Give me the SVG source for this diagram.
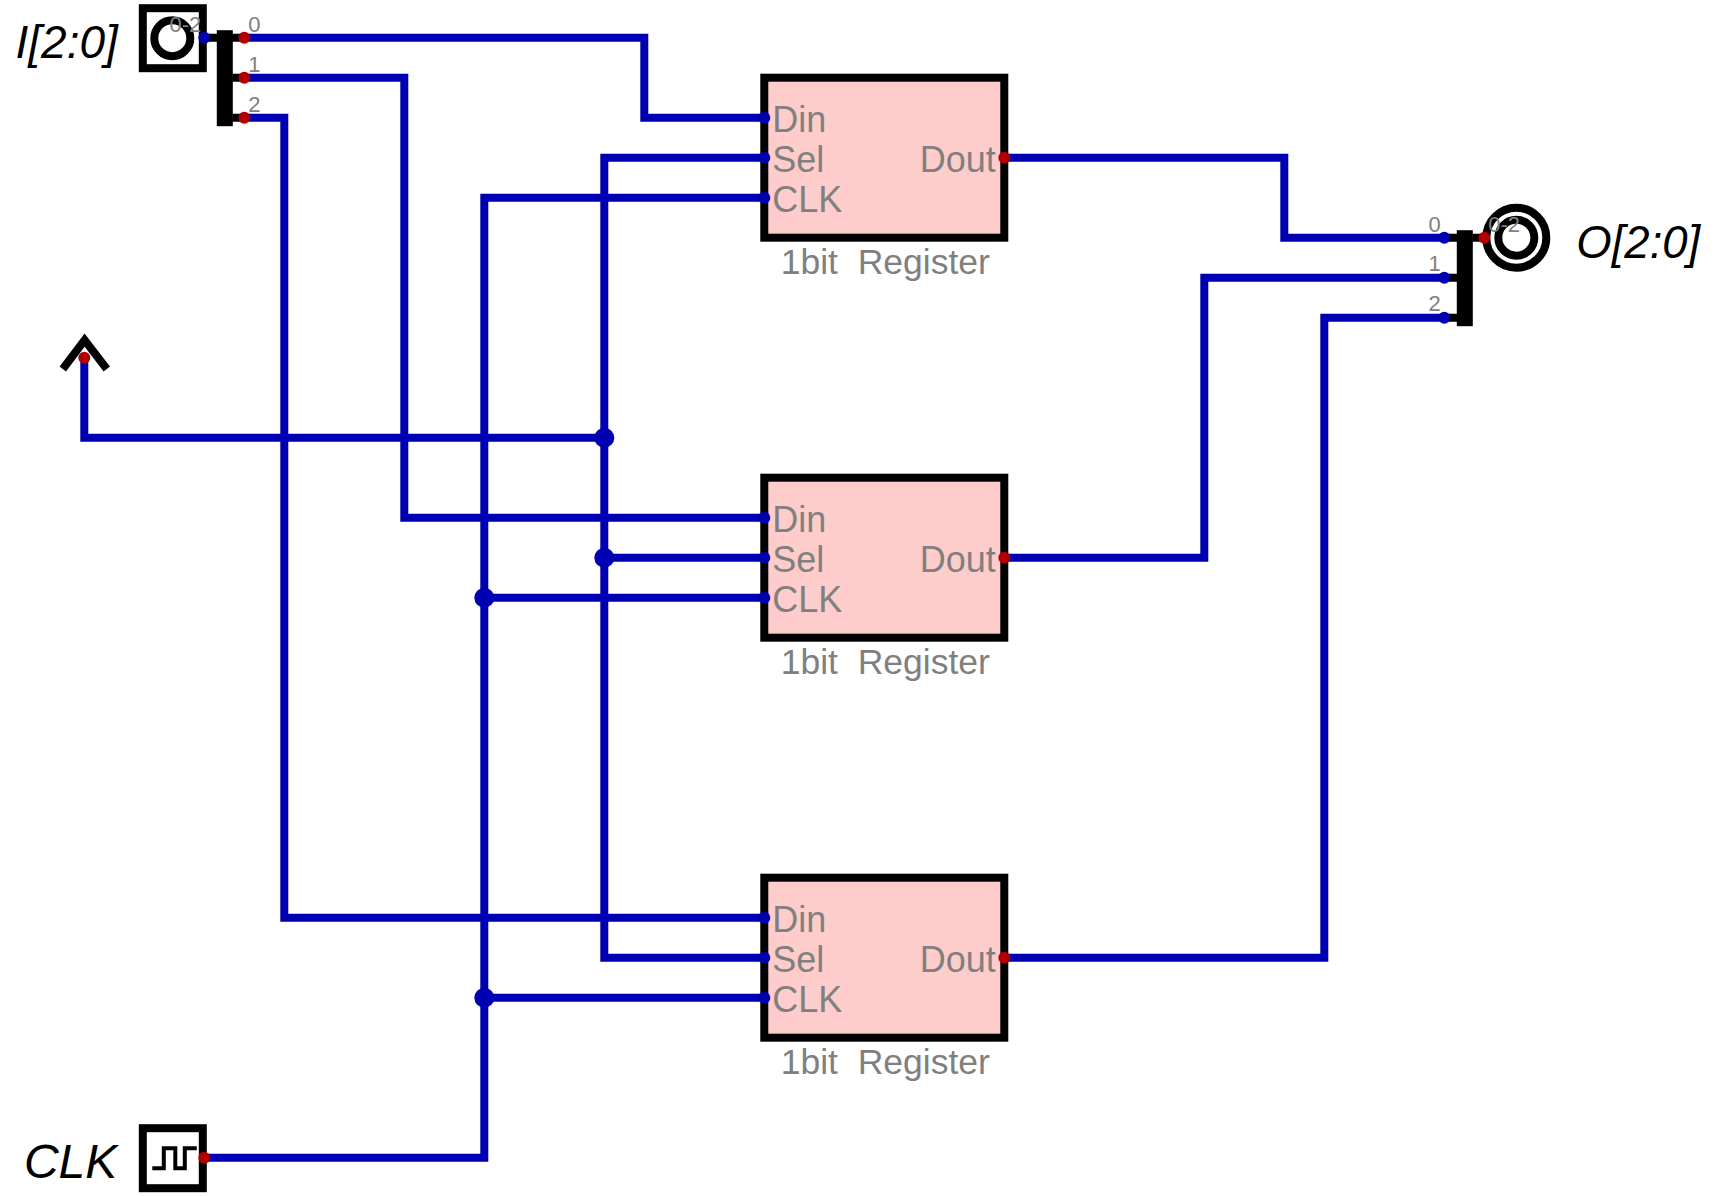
<svg xmlns="http://www.w3.org/2000/svg" width="1714" height="1196" viewBox="0 0 1714 1196">
<style>
text{font-family:"Liberation Sans",Arial,sans-serif;fill:#808080}
.io{font-size:46px;font-style:italic;fill:#000}
.sm{font-size:22px}
.lb{font-size:36px}
.nm{font-size:35.500px;text-anchor:middle;white-space:pre}
.end{text-anchor:end}
.box{fill:#fff;stroke:#000;stroke-width:8}
.reg{fill:#ffcccc;stroke:#000;stroke-width:8}
.blk{fill:none;stroke:#000;stroke-width:8}
.w{fill:none;stroke:#0000b2;stroke-width:8}
.j{fill:#0000b2}
.in{fill:#0000b2}
.out{fill:#b20000}
</style>
<defs>
<g id="register">
<rect class="reg" x="0" y="0" width="240" height="160"/>
<text class="lb" x="8" y="54.500">Din</text>
<text class="lb" x="8" y="94.500">Sel</text>
<text class="lb" x="8" y="134.500">CLK</text>
<text class="lb end" x="231.500" y="94.500">Dout</text>
<text class="nm" x="121" y="196.300">1bit  Register</text>
<circle class="in" cx="0" cy="40" r="6"/>
<circle class="in" cx="0" cy="80" r="6"/>
<circle class="in" cx="0" cy="120" r="6"/>
<circle class="out" cx="240" cy="80" r="6"/>
</g>
</defs>
<g transform="translate(0.3,-0.3)">
<g id="connectors">
<path class="w" d="M244 38H644V118H764"/>
<path class="w" d="M244 78H404V518H764"/>
<path class="w" d="M244 118H284V918H764"/>
<path class="w" d="M764 158H604V958H764"/>
<path class="w" d="M604 558H764"/>
<path class="w" d="M84 358V438H604"/>
<path class="w" d="M204 1158H484V198H764"/>
<path class="w" d="M484 598H764"/>
<path class="w" d="M484 998H764"/>
<path class="w" d="M1004 158H1284V238H1444"/>
<path class="w" d="M1004 558H1204V278H1444"/>
<path class="w" d="M1004 958H1324V318H1444"/>
<circle class="j" cx="604" cy="438" r="10"/>
<circle class="j" cx="604" cy="558" r="10"/>
<circle class="j" cx="484" cy="598" r="10"/>
<circle class="j" cx="484" cy="998" r="10"/>
</g>
<g id="input-I">
<rect class="box" x="142.500" y="8.500" width="60" height="60"/>
<circle class="blk" cx="172" cy="38.500" r="18" stroke-width="7.500"/>
<text class="io end" x="117.500" y="58.500">I[2:0]</text>
<text class="sm end" x="201" y="32">0-2</text>
</g>
<g id="splitter-in">
<path class="blk" d="M204 38H244M232 78H244M232 118H244"/>
<rect x="216.500" y="30.500" width="16" height="96" fill="#000"/>
<circle class="in" cx="204" cy="38" r="6"/>
<circle class="out" cx="244" cy="38" r="6"/>
<circle class="out" cx="244" cy="78" r="6"/>
<circle class="out" cx="244" cy="118" r="6"/>
<text class="sm" x="248" y="32">0</text>
<text class="sm" x="248" y="72">1</text>
<text class="sm" x="248" y="112">2</text>
</g>
<g id="tunnel">
<path class="blk" d="M62.500 369.300L84.300 340.300L106.500 369.300"/>
<circle class="out" cx="84" cy="358" r="6"/>
</g>
<use id="register-0" href="#register" x="764" y="78"/>
<use id="register-1" href="#register" x="764" y="478"/>
<use id="register-2" href="#register" x="764" y="878"/>
<g id="output-O">
<circle class="blk" cx="1516" cy="238" r="30" stroke-width="7"/>
<circle class="blk" cx="1516" cy="238" r="18" stroke-width="7.500"/>
<text class="io" x="1576" y="258" style="font-size:45.500px">O[2:0]</text>
</g>
<g id="splitter-out">
<path class="blk" d="M1444 238H1457M1444 278H1457M1444 318H1457M1472 238H1484"/>
<rect x="1456.500" y="230.500" width="16" height="96" fill="#000"/>
<circle class="in" cx="1444" cy="238" r="6"/>
<circle class="in" cx="1444" cy="278" r="6"/>
<circle class="in" cx="1444" cy="318" r="6"/>
<circle class="out" cx="1484" cy="238" r="6"/>
<text class="sm end" x="1440.500" y="232">0</text>
<text class="sm end" x="1440.500" y="271.500">1</text>
<text class="sm end" x="1440.500" y="311">2</text>
<text class="sm" x="1488" y="232">0-2</text>
</g>
<g id="input-CLK">
<rect class="box" x="142.500" y="1128.500" width="60" height="60"/>
<path d="M152 1168.500H163.500V1148.500H175V1168.500H184.500V1148.500H196.500" fill="none" stroke="#000" stroke-width="4"/>
<circle class="out" cx="204" cy="1158" r="6"/>
<text class="io end" x="117" y="1178" style="font-size:48px">CLK</text>
</g>
</g>
</svg>
